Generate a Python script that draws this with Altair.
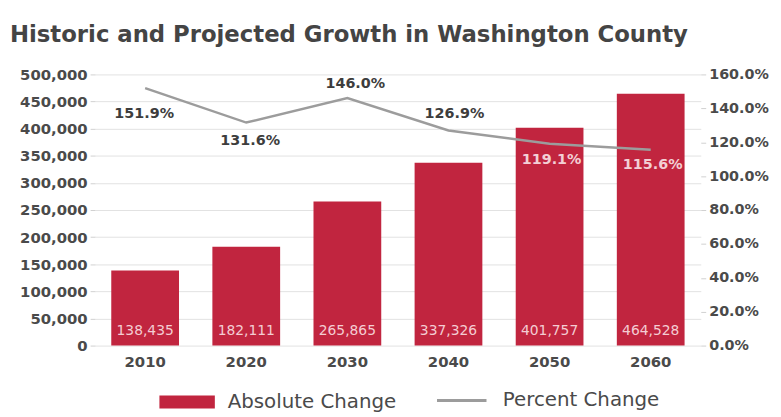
import altair as alt
import pandas as pd

years = ["2010", "2020", "2030", "2040", "2050", "2060"]
absolute_change = [138435, 182111, 265865, 337326, 401757, 464528]
percent_change = [1.519, 1.316, 1.460, 1.269, 1.191, 1.156]

left_ticks = [0, 50000, 100000, 150000, 200000, 250000, 300000, 350000, 400000, 450000, 500000]
right_ticks = [0, 0.2, 0.4, 0.6, 0.8, 1.0, 1.2, 1.4, 1.6]

df = pd.DataFrame({"year": years, "absolute": absolute_change, "percent": percent_change})

RED = "#c1253f"
GRAY_LINE = "#9c9c9c"
TXT = "#4a4a4a"
FONT = "DejaVu Sans"

x = alt.X("year:N", title=None, sort=years,
          scale=alt.Scale(paddingInner=0.33, paddingOuter=0.16),
          axis=alt.Axis(labelAngle=0, ticks=False, domain=False, labelPadding=9,
                        labelFont=FONT, labelFontSize=15, labelFontWeight="bold",
                        labelColor=TXT))

left_scale = alt.Scale(domain=[0, 500000], nice=False)
left_axis = alt.Axis(values=left_ticks, format=",d", domain=False, tickSize=5,
                     tickColor="#d0d0d0", grid=True, gridColor="#e2e2e2",
                     labelPadding=3, labelFont=FONT, labelFontSize=15,
                     labelFontWeight="bold", labelColor=TXT)

bars = alt.Chart(df).transform_calculate(series="'Absolute Change'").mark_bar(
    color=RED, opacity=1).encode(
    x=x, y=alt.Y("absolute:Q", title=None, scale=left_scale, axis=left_axis),
    fill=alt.Fill("series:N", scale=alt.Scale(range=[RED]),
                  legend=alt.Legend(title=None, orient="none", legendX=65, legendY=303,
                                    symbolType="M-1,-0.235H1V0.235H-1Z", symbolSize=3136,
                                    symbolStrokeWidth=0, labelOffset=13, padding=0,
                                    labelLimit=400,
                                    labelFont=FONT, labelFontSize=20, labelColor=TXT)))

bar_text = alt.Chart(df).transform_calculate(base="0").mark_text(
    font=FONT, fontSize=14, color="#f4cdd3", baseline="middle", dy=-15).encode(
    x=x, y=alt.Y("base:Q", title=None, scale=left_scale, axis=left_axis),
    text=alt.Text("absolute:Q", format=","))

left = alt.layer(bars, bar_text)

y_right = alt.Y("percent:Q", title=None,
                scale=alt.Scale(domain=[0, 1.6], nice=False),
                axis=alt.Axis(orient="right", values=right_ticks, format=".1%", domain=False,
                              grid=False, tickSize=5, tickColor="#d0d0d0", labelPadding=3,
                              labelFont=FONT, labelFontSize=14.5, labelFontWeight="bold",
                              labelColor=TXT))

line = alt.Chart(df).transform_calculate(series2="'Percent Change'").mark_line(
    strokeWidth=2.5).encode(
    x=x, y=y_right,
    stroke=alt.Stroke("series2:N", scale=alt.Scale(range=[GRAY_LINE]),
                      legend=alt.Legend(title=None, orient="none", legendX=344, legendY=303,
                                        symbolType="stroke", symbolSize=2500,
                                        symbolStrokeWidth=3, labelOffset=15, padding=0,
                                        labelLimit=400,
                                        labelFont=FONT, labelFontSize=20, labelColor=TXT)))


def pct_labels(sel, dx, dy, color):
    return alt.Chart(df).transform_filter(
        alt.FieldOneOfPredicate(field="year", oneOf=sel)).mark_text(
        font=FONT, fontSize=14.5, fontWeight="bold", color=color, baseline="middle",
        dx=dx, dy=dy).encode(x=x, y=y_right, text=alt.Text("percent:Q", format=".1%"))


right = alt.layer(
    line,
    pct_labels(["2010"], -1, 26, "#3d3d3d"),
    pct_labels(["2020"], 4, 19, "#3d3d3d"),
    pct_labels(["2030"], 8, -14, "#3d3d3d"),
    pct_labels(["2040"], 6, -17, "#3d3d3d"),
    pct_labels(["2050", "2060"], 2, 16, "#f3cfd5"),
)

chart = alt.layer(left, right).resolve_scale(y="independent", fill="independent").properties(
    width=612, height=274,
    autosize=alt.AutoSizeParams(type="none"),
    padding={"left": 88, "top": 65, "right": 73, "bottom": 66},
    title=alt.Title("Historic and Projected Growth in Washington County", anchor="start",
                    frame="group", dx=-86, offset=20, font=FONT, fontSize=23,
                    fontWeight="bold", color="#444444"),
).configure_view(stroke=None).configure_axis(labelLimit=200)

chart.save("out.html", embed_options={"renderer": "svg", "actions": False})
